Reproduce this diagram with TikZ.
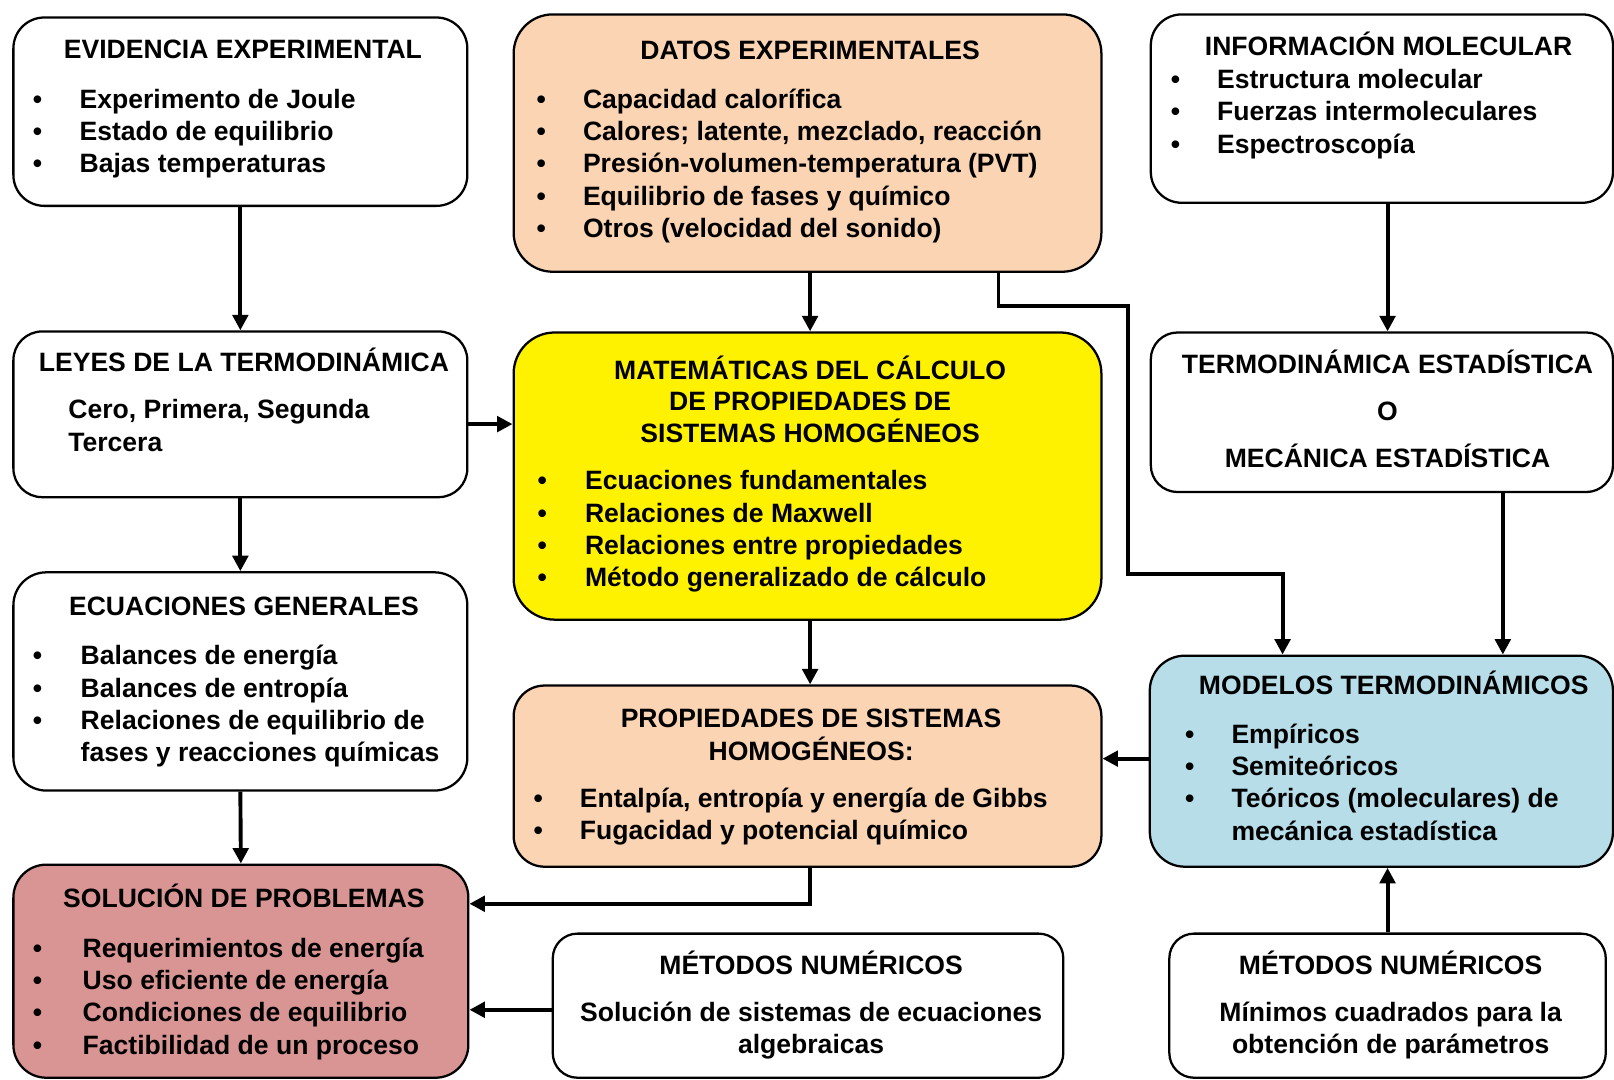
\documentclass[tikz,border=0pt]{standalone}
\usepackage{fontspec}
\setmainfont{Liberation Sans}
\usetikzlibrary{arrows.meta,fit}
\definecolor{peach}{HTML}{FBD4B4}
\definecolor{skyblue}{HTML}{B6DDE8}
\definecolor{rosered}{HTML}{D99594}
\def\bul{\textbullet}

\begin{document}
\begin{tikzpicture}[x=0.5pt,y=-0.5pt,font=\bfseries\fontsize{12.9}{15.7}\selectfont]
    \tikzstyle{box}=[draw=black,line width=1.1pt,rounded corners=15pt,inner sep=0pt]
    \tikzstyle{txt}=[inner sep=0pt,anchor=base west]
    \tikzstyle{ttl}=[inner sep=0pt,anchor=base]
    \tikzstyle{arr}=[line width=1.9pt,-{Triangle[length=7.5pt,width=7.5pt]}]

    \useasboundingbox (0,0) rectangle (1568,1049);

    % left column
    \node[box,fill=white,fit={(13,17) (454,200)}] (evid) {};
    \node[ttl] (evidT) at (236,57) {EVIDENCIA EXPERIMENTAL};
    \node[txt] (evidL) at (31.5,105) {\begin{tabular}[t]{@{}p{22.75pt}@{}l@{}}
        \bul & Experimento de Joule\\ \bul & Estado de equilibrio\\ \bul & Bajas temperaturas\end{tabular}};

    \node[box,fill=white,rounded corners=14pt,fit={(13,322) (454,483)}] (leyes) {};
    \node[ttl] (leyesT) at (237,361) {LEYES DE LA TERMODIN\'AMICA};
    \node[txt] (leyesL) at (66,407) {\begin{tabular}[t]{@{}l@{}}Cero, Primera, Segunda\\ Tercera\end{tabular}};

    \node[box,fill=white,rounded corners=16pt,fit={(13,556) (454,768)}] (ecgen) {};
    \node[ttl] (ecgenT) at (237,598) {ECUACIONES GENERALES};
    \node[txt] (ecgenL) at (31.5,646) {\begin{tabular}[t]{@{}p{23.25pt}@{}l@{}}
        \bul & Balances de energ\'ia\\ \bul & Balances de entrop\'ia\\
        \bul & Relaciones de equilibrio de\\ & fases y reacciones qu\'imicas\end{tabular}};

    \node[box,fill=rosered,rounded corners=16pt,fit={(13,840) (455,1047)}] (solucion) {};
    \node[ttl] (solucionT) at (237,882) {SOLUCI\'ON DE PROBLEMAS};
    \node[txt] (solucionL) at (31.5,930) {\begin{tabular}[t]{@{}p{24.25pt}@{}l@{}}
        \bul & Requerimientos de energ\'ia\\ \bul & Uso eficiente de energ\'ia\\
        \bul & Condiciones de equilibrio\\ \bul & Factibilidad de un proceso\end{tabular}};

    % middle column
    \node[box,fill=peach,rounded corners=19pt,fit={(499,14) (1070,264)}] (datos) {};
    \node[ttl] (datosT) at (787,58) {DATOS EXPERIMENTALES};
    \node[txt] (datosL) at (521,105) {\begin{tabular}[t]{@{}p{22.5pt}@{}l@{}}
        \bul & Capacidad calor\'ifica\\ \bul & Calores; latente, mezclado, reacci\'on\\
        \bul & Presi\'on-volumen-temperatura (PVT)\\ \bul & Equilibrio de fases y qu\'imico\\
        \bul & Otros (velocidad del sonido)\end{tabular}};

    \node[box,fill=yellow,rounded corners=20pt,fit={(499,323) (1070,602)}] (mate) {};
    \node[ttl] (mateT) at (787,369) {\renewcommand{\arraystretch}{0.94}\begin{tabular}[t]{@{}c@{}}
        MATEM\'ATICAS DEL C\'ALCULO\\ DE PROPIEDADES DE\\ SISTEMAS HOMOG\'ENEOS\end{tabular}};
    \node[txt] (mateL) at (522,476) {\begin{tabular}[t]{@{}p{23pt}@{}l@{}}
        \bul & Ecuaciones fundamentales\\ \bul & Relaciones de Maxwell\\
        \bul & Relaciones entre propiedades\\ \bul & M\'etodo generalizado de c\'alculo\end{tabular}};

    \node[box,fill=peach,fit={(499,666) (1070,842)}] (propied) {};
    \node[ttl] (propiedT) at (788,707) {\renewcommand{\arraystretch}{0.93}\begin{tabular}[t]{@{}c@{}}
        PROPIEDADES DE SISTEMAS\\ HOMOG\'ENEOS:\end{tabular}};
    \node[txt] (propiedL) at (518,784) {\begin{tabular}[t]{@{}p{22.5pt}@{}l@{}}
        \bul & Entalp\'ia, entrop\'ia y energ\'ia de Gibbs\\ \bul & Fugacidad y potencial qu\'imico\end{tabular}};

    \node[box,fill=white,rounded corners=12pt,fit={(537,907) (1033,1047)}] (metnum) {};
    \node[ttl] (metnumT) at (788,947) {M\'ETODOS NUM\'ERICOS};
    \node[ttl] (metnumL) at (788,992) {\begin{tabular}[t]{@{}c@{}}
        Soluci\'on de sistemas de ecuaciones\\ algebraicas\end{tabular}};

    % right column
    \node[box,fill=white,fit={(1118,14) (1567,197)}] (info) {};
    \node[ttl] (infoT) at (1349,54) {INFORMACI\'ON MOLECULAR};
    \node[txt] (infoL) at (1137,86) {\begin{tabular}[t]{@{}p{22.5pt}@{}l@{}}
        \bul & Estructura molecular\\ \bul & Fuerzas intermoleculares\\ \bul & Espectroscop\'ia\end{tabular}};

    \node[box,fill=white,rounded corners=13pt,fit={(1118,323) (1567,478)}] (termo) {};
    \node[ttl] (termoT) at (1348,363) {\renewcommand{\arraystretch}{1.45}\begin{tabular}[t]{@{}c@{}}
        TERMODIN\'AMICA ESTAD\'ISTICA\\ O\\ MEC\'ANICA ESTAD\'ISTICA\end{tabular}};

    \node[box,fill=skyblue,rounded corners=17pt,fit={(1117,637) (1567,842)}] (modelos) {};
    \node[ttl] (modelosT) at (1354,675) {MODELOS TERMODIN\'AMICOS};
    \node[txt] (modelosL) at (1151,722) {\begin{tabular}[t]{@{}p{22.5pt}@{}l@{}}
        \bul & Emp\'iricos\\ \bul & Semite\'oricos\\
        \bul & Te\'oricos (moleculares) de\\ & mec\'anica estad\'istica\end{tabular}};

    \node[box,fill=white,rounded corners=12pt,fit={(1136,907) (1560,1047)}] (metpar) {};
    \node[ttl] (metparT) at (1351,947) {M\'ETODOS NUM\'ERICOS};
    \node[ttl] (metparL) at (1351,992) {\begin{tabular}[t]{@{}c@{}}
        M\'inimos cuadrados para la\\ obtenci\'on de par\'ametros\end{tabular}};

    % connectors
    \coordinate (bend1) at (1096,297);
    \coordinate (bend2) at (1246,558);

    \draw[arr] (evid.south) -- (leyes.north);
    \draw[arr] (leyes.south) -- (ecgen.north);
    \draw[arr] (ecgen.south) -- (solucion.north);
    \draw[arr] (0,412 -| leyes.east) -- (0,412 -| mate.west);
    \draw[arr] (787,0 |- datos.south) -- (787,0 |- mate.north);
    \draw[arr] (787,0 |- mate.south) -- (787,0 |- propied.north);
    \draw[arr] (1348,0 |- info.south) -- (1348,0 |- termo.north);
    \draw[arr] (970,0 |- datos.south) |- (bend1) |- (bend2) -- (bend2 |- modelos.north);
    \draw[arr] (1460,0 |- termo.south) -- (1460,0 |- modelos.north);
    \draw[arr] (0,737 -| modelos.west) -- (0,737 -| propied.east);
    \draw[arr] (787,0 |- propied.south) |- (0,878 -| solucion.east);
    \draw[arr] (0,981 -| metnum.west) -- (0,981 -| solucion.east);
    \draw[arr] (1348,0 |- metpar.north) -- (1348,0 |- modelos.south);
\end{tikzpicture}
\end{document}
